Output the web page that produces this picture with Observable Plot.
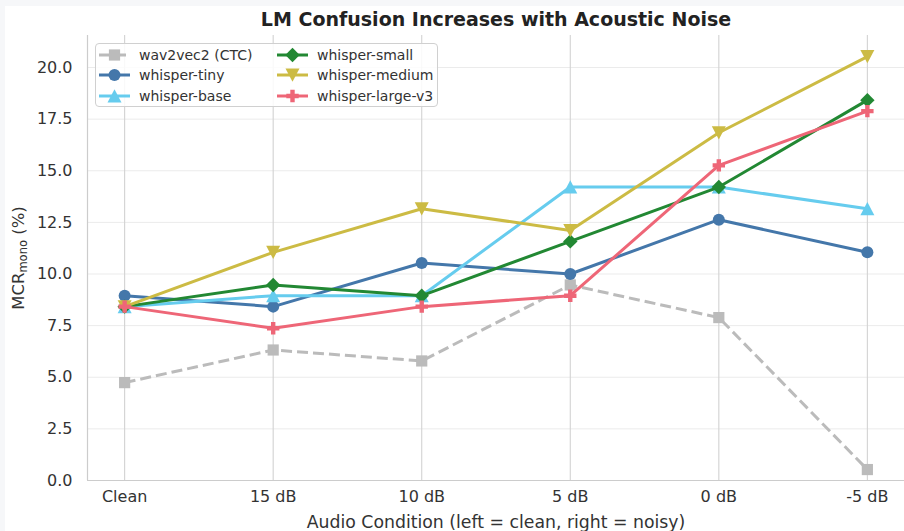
<!DOCTYPE html>
<html><head><meta charset="utf-8">
<script src="https://cdn.jsdelivr.net/npm/d3@7"></script>
<script src="https://cdn.jsdelivr.net/npm/@observablehq/plot@0.6"></script>
<style>
body{margin:0;background:#f6f7f9;font-family:"DejaVu Sans",sans-serif;}
#wrap{position:relative;width:904px;height:531px;overflow:hidden}
#bg{position:absolute;left:5px;top:6px;right:0;bottom:0;background:#fff}
#chart{position:absolute;left:0;top:0}
#ylab{position:absolute;left:19px;top:258px;transform:translate(-50%,-50%) rotate(-90deg);font-size:16.5px;color:#333;white-space:nowrap}
#ylab sub{font-size:11.5px;vertical-align:-3px}
#legend{position:absolute;left:95px;top:43px;width:341px;height:62px;border:1px solid #d0d0d0;border-radius:4px;background:rgba(255,255,255,0.85);font-size:14px;color:#333}
.li{position:absolute;display:flex;align-items:center;height:20px}
.li svg{margin-right:9px}
</style></head><body>
<div id="wrap"><div id="bg"></div><div id="chart"></div><div id="ylab">MCR<sub>mono</sub> (%)</div><div id="legend"></div></div>
<script>
const conditions = ["Clean", "15 dB", "10 dB", "5 dB", "0 dB", "-5 dB"];
const models = ["wav2vec2 (CTC)", "whisper-tiny", "whisper-base", "whisper-small", "whisper-medium", "whisper-large-v3"];
const wav2vec2 = [4.74, 6.32, 5.79, 9.47, 7.89, 0.53];
const whisperTiny = [8.95, 8.42, 10.53, 10.00, 12.63, 11.05];
const whisperBase = [8.42, 8.95, 8.95, 14.21, 14.21, 13.16];
const whisperSmall = [8.42, 9.47, 8.95, 11.58, 14.21, 18.42];
const whisperMedium = [8.42, 11.05, 13.16, 12.11, 16.84, 20.53];
const whisperLarge = [8.42, 7.37, 8.42, 8.95, 15.26, 17.89];
const yTicks = [0, 2.5, 5, 7.5, 10, 12.5, 15, 17.5, 20];

const poly = (pts) => ({draw(ctx){ctx.moveTo(pts[0][0], pts[0][1]); for (const p of pts.slice(1)) ctx.lineTo(p[0], p[1]); ctx.closePath();}});
const SQ = poly([[-5.6,-5.6],[5.6,-5.6],[5.6,5.6],[-5.6,5.6]]);
const CIRC = {draw(ctx){ctx.moveTo(6,0); ctx.arc(0,0,6,0,2*Math.PI);}};
const TRI_UP = poly([[0,-6.8],[7,6.5],[-7,6.5]]);
const TRI_DN = poly([[0,6.8],[7,-6.5],[-7,-6.5]]);
const DIA = poly([[0,-7.2],[7.2,0],[0,7.2],[-7.2,0]]);
const a = 2.2, b = 6.2;
const PLUS = poly([[-a,-b],[a,-b],[a,-a],[b,-a],[b,a],[a,a],[a,b],[-a,b],[-a,a],[-b,a],[-b,-a],[-a,-a]]);

const valuesList = [wav2vec2, whisperTiny, whisperBase, whisperSmall, whisperMedium, whisperLarge];
const styles = [
  {color:"#BBBBBB", symbol:SQ, dash:"11,5"},
  {color:"#4477AA", symbol:CIRC},
  {color:"#66CCEE", symbol:TRI_UP},
  {color:"#228833", symbol:DIA},
  {color:"#CCBB44", symbol:TRI_DN},
  {color:"#EE6677", symbol:PLUS}
];

const idx = d3.range(conditions.length);
const marks = [
  Plot.ruleY(yTicks, {stroke:"#ebebeb", strokeWidth:1}),
  Plot.ruleX(idx, {stroke:"#d2d2d2", strokeWidth:1.1}),
  Plot.ruleX([-0.25], {stroke:"#cccccc", strokeWidth:1.2}),
  Plot.ruleY([0], {stroke:"#cccccc", strokeWidth:1.2}),
  Plot.axisY(yTicks, {tickSize:0, tickPadding:15, tickFormat:d3.format(".1f"), fontSize:16, label:null}),
  Plot.axisX(idx, {tickSize:0, tickPadding:10, tickFormat:i => conditions[i], fontSize:16, label:null})
];
models.forEach((m, k) => {
  const vals = valuesList[k], s = styles[k];
  marks.push(Plot.line(idx, {x:i => i, y:i => vals[i], stroke:s.color, strokeWidth:3, strokeDasharray:s.dash, strokeLinecap:"butt"}));
  marks.push(Plot.dot(idx, {x:i => i, y:i => vals[i], symbol:s.symbol, r:5, fill:s.color, stroke:"none"}));
});
marks.push(Plot.text(["LM Confusion Increases with Acoustic Noise"], {frameAnchor:"top", dy:-16, fontSize:19, fontWeight:"bold", fill:"#222", lineAnchor:"middle"}));
marks.push(Plot.text(["Audio Condition (left = clean, right = noisy)"], {frameAnchor:"bottom", dy:42, fontSize:17.3, fill:"#333", lineAnchor:"middle"}));

const chart = Plot.plot({
  width:904, height:531,
  marginLeft:87, marginRight:0, marginTop:35, marginBottom:51,
  x:{domain:[-0.25, 5.25], axis:null},
  y:{domain:[0, 21.55], axis:null},
  style:{background:"transparent", fontFamily:"DejaVu Sans", color:"#333", overflow:"visible"},
  marks
});
document.getElementById("chart").append(chart);

// legend
const leg = document.getElementById("legend");
const rowsY = [1, 21, 42];
models.forEach((m, k) => {
  const s = styles[k];
  const p = d3.path(); s.symbol.draw(p);
  const col = Math.floor(k / 3), row = k % 3;
  const div = document.createElement("div");
  div.className = "li";
  div.style.left = (col === 0 ? 3 : 181) + "px";
  div.style.top = rowsY[row] + "px";
  div.innerHTML = `<svg width="31" height="20"><line x1="0" x2="31" y1="10" y2="10" stroke="${s.color}" stroke-width="3" ${s.dash ? `stroke-dasharray="${s.dash}"` : ""}/><path transform="translate(15.5,10)" d="${p.toString()}" fill="${s.color}"/></svg><span>${m}</span>`;
  leg.append(div);
});
</script>
</body></html>
